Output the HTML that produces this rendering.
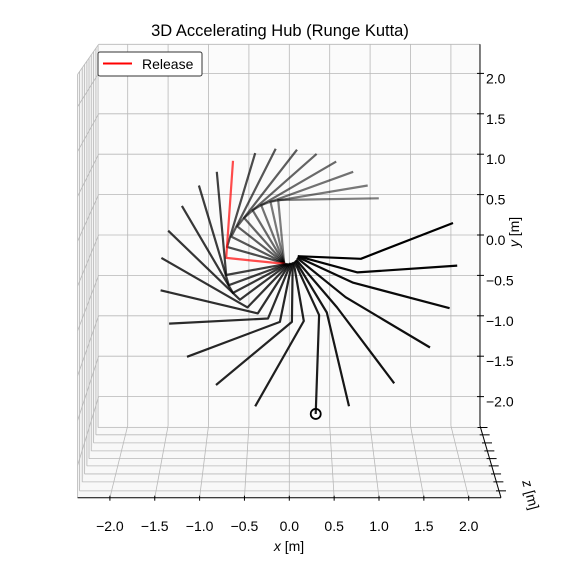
<!DOCTYPE html>
<html><head><meta charset="utf-8"><style>
html,body{margin:0;padding:0;background:#fff;}
svg{display:block;font-family:"Liberation Sans","DejaVu Sans",sans-serif;}
</style></head><body>
<svg id="chart" width="576" height="569" viewBox="0 0 576 569" xmlns="http://www.w3.org/2000/svg">
<text x="280" y="36" font-size="16.5" text-anchor="middle" fill="#000">3D Accelerating Hub (Runge Kutta)</text>
<g id="panes"></g>
<g id="grid"></g>
<g id="axes"></g>
<g id="series"></g>
<text x="289" y="551" font-size="14" text-anchor="middle"><tspan font-style="italic">x</tspan> [m]</text>
<text transform="translate(519,232) rotate(-90)" font-size="14" text-anchor="middle"><tspan font-style="italic">y</tspan> [m]</text>
<text transform="translate(526,496) rotate(75)" font-size="14" text-anchor="middle"><tspan font-style="italic">z</tspan> [m]</text>
<g>
<rect x="98" y="52" width="104" height="24" rx="2" fill="#fff" stroke="#333" stroke-width="1"/>
<line x1="103" y1="63.5" x2="132" y2="63.5" stroke="#ff0000" stroke-width="2"/>
<text x="142" y="69" font-size="14">Release</text>
</g>
</svg>
<script>
const tickVals = [-2.0,-1.5,-1.0,-0.5,0.0,0.5,1.0,1.5,2.0];
const tickLabels = ["\u22122.0","\u22121.5","\u22121.0","\u22120.5","0.0","0.5","1.0","1.5","2.0"];
const zDepths = [0.025,0.127,0.239,0.35,0.457,0.558,0.67,0.78,0.905];
const hubX = [-0.06,-0.06,-0.06,-0.06,-0.06,-0.06,-0.06,-0.06,-0.05,-0.04,-0.03,-0.02,-0.01,0,0.01,0.02,0.03,0.04,0.05,0.06,0.07,0.08,0.09,0.10,0.10,0.10];
const hubY = [-0.03,-0.03,-0.03,-0.03,-0.03,-0.03,-0.03,-0.03,-0.04,-0.04,-0.04,-0.04,-0.04,-0.04,-0.03,-0.03,-0.03,-0.02,-0.02,-0.01,0,0.01,0.03,0.04,0.05,0.05];
const jointX = [-0.13,-0.22,-0.33,-0.43,-0.53,-0.61,-0.68,-0.73,-0.74,-0.74,-0.71,-0.66,-0.58,-0.49,-0.37,-0.25,-0.11,0.03,0.17,0.35,0.44,0.56,0.66,0.75,0.80,0.84];
const jointY = [0.71,0.69,0.65,0.59,0.50,0.40,0.28,0.16,0.03,-0.17,-0.29,-0.38,-0.46,-0.55,-0.62,-0.68,-0.72,-0.72,-0.71,-0.64,-0.61,-0.55,-0.43,-0.26,-0.14,0.02];
const endX = [1.05,0.92,0.75,0.55,0.32,0.09,-0.16,-0.40,-0.66,-0.85,-1.06,-1.26,-1.42,-1.50,-1.51,-1.41,-1.20,-0.86,-0.40,0.31,0.70,1.23,1.65,1.88,1.97,1.92];
const endY = [0.73,0.88,1.04,1.16,1.25,1.30,1.31,1.26,1.17,1.04,0.88,0.64,0.35,0.03,-0.35,-0.74,-1.13,-1.46,-1.71,-1.80,-1.71,-1.44,-1.02,-0.56,-0.06,0.44];
const alphas = [0.5,0.52,0.55,0.58,0.6,0.63,0.66,0.7,0.7,0.75,0.76,0.78,0.79,0.8,0.82,0.83,0.85,0.86,0.88,0.89,0.91,0.93,0.94,0.96,0.98,1.0];
const releaseIndex = 8;
const markerIndex = 19;

const NS = "http://www.w3.org/2000/svg";
const EXT = 2.36;
function sc(t){return 80.8+8.9*t;}
function cy(t){return 235+51*t;}
function px(x,t){return 289.3+x*sc(t);}
function py(y,t){return cy(t)-y*sc(t);}
function mk(tag,attrs,parent){const e=document.createElementNS(NS,tag);for(const k in attrs)e.setAttribute(k,attrs[k]);parent.appendChild(e);return e;}
const panes=document.getElementById('panes'),grid=document.getElementById('grid'),axes=document.getElementById('axes'),series=document.getElementById('series');
const G={stroke:"#b8b8b8","stroke-width":0.8,fill:"none"};
let bp=mk('rect',{x:px(-EXT,0),y:py(EXT,0),width:px(EXT,0)-px(-EXT,0),height:py(-EXT,0)-py(EXT,0),fill:"#fbfbfb"},panes);


let fp=mk('polygon',{points:[[px(-EXT,0),py(-EXT,0)],[px(EXT,0),py(-EXT,0)],[px(EXT,1),py(-EXT,1)],[px(-EXT,1),py(-EXT,1)]].map(p=>p.join(',')).join(' '),fill:"#f8f8f8"},panes);


let lp=mk('polygon',{points:[[px(-EXT,0),py(EXT,0)],[px(-EXT,1),py(EXT,1)],[px(-EXT,1),py(-EXT,1)],[px(-EXT,0),py(-EXT,0)]].map(p=>p.join(',')).join(' '),fill:"#f4f4f4"},panes);


function gl(x1,y1,x2,y2,name){const l=mk('line',Object.assign({x1,y1,x2,y2},G),grid);}
tickVals.forEach(v=>{
  gl(px(v,0),py(EXT,0),px(v,0),py(-EXT,0),'back-x-gridline');
  gl(px(-EXT,0),py(v,0),px(EXT,0),py(v,0),'back-y-gridline');
  gl(px(v,0),py(-EXT,0),px(v,1),py(-EXT,1),'floor-x-gridline');
  gl(px(-EXT,0),py(v,0),px(-EXT,1),py(v,1),'left-y-gridline');
});
zDepths.forEach(t=>{
  gl(px(-EXT,t),py(-EXT,t),px(EXT,t),py(-EXT,t),'floor-z-gridline');
  gl(px(-EXT,t),py(EXT,t),px(-EXT,t),py(-EXT,t),'left-z-gridline');
});
gl(px(-EXT,0),py(EXT,0),px(-EXT,1),py(EXT,1),'pane-edge');
gl(px(-EXT,0),py(EXT,0),px(EXT,0),py(EXT,0),'pane-edge');
gl(px(-EXT,1),py(EXT,1),px(-EXT,1),py(-EXT,1),'pane-edge');
function al(x1,y1,x2,y2,name){const l=mk('line',{x1,y1,x2,y2,stroke:"#000","stroke-width":1},axes);return l;}
function tx(x,y,s,anchor,name){const e=mk('text',{x,y,"font-size":14,"text-anchor":anchor,fill:"#000"},axes);e.textContent=s;}
al(px(-EXT,1),py(-EXT,1),px(EXT,1),py(-EXT,1),'x-axis-line');
tickVals.forEach((v,i)=>{al(px(v,1),py(-EXT,1)-2,px(v,1),py(-EXT,1)+3,'x-tick');tx(px(v,1),531,tickLabels[i],'middle','x-tick-label');});
al(px(EXT,0),py(EXT,0),px(EXT,0),py(-EXT,0),'y-axis-line');
tickVals.forEach((v,i)=>{al(px(EXT,0)-3,py(v,0),px(EXT,0)+4,py(v,0),'y-tick');tx(px(EXT,0)+6,py(v,0)+10,tickLabels[i],'start','y-tick-label');});
al(px(EXT,0),py(-EXT,0),px(EXT,1),py(-EXT,1),'z-axis-line');
zDepths.forEach(t=>{al(px(EXT,t)-3,py(-EXT,t),px(EXT,t)+7,py(-EXT,t),'z-tick');});
const T=0.5;
for(let i=0;i<endX.length;i++){
  const pts=[[hubX[i],hubY[i]],[jointX[i],jointY[i]],[endX[i],endY[i]]].map(p=>px(p[0],T).toFixed(1)+','+py(p[1],T).toFixed(1)).join(' ');
  const pl=mk('polyline',{points:pts,fill:"none",stroke:i===releaseIndex?"#ff0000":"#000","stroke-width":2.2,"stroke-opacity":alphas[i],"stroke-linejoin":"round"},series);
  
  
}
const c=mk('circle',{cx:px(endX[markerIndex],T),cy:py(endY[markerIndex],T),r:5,fill:"none",stroke:"#000","stroke-width":1.8},series);


</script>
</body></html>
